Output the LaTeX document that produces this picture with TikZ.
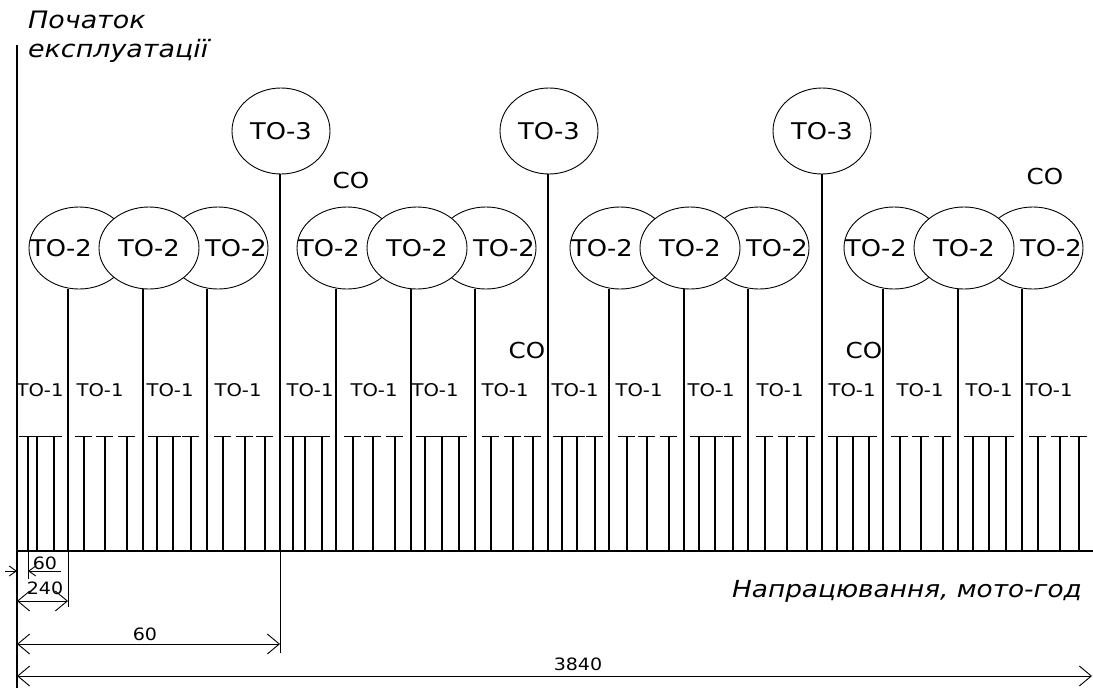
\documentclass[tikz,border=0pt]{standalone}
\usepackage{fontspec}
\setmainfont{DejaVu Sans}[FakeStretch=1.12]
\usetikzlibrary{shapes.geometric,arrows.meta}
\begin{document}
\begin{tikzpicture}[x=1pt,y=-1pt,
  ln/.style={line width=1.3pt},
  tk/.style={line width=1.2pt},
  capln/.style={line width=0.9pt},
  dimln/.style={line width=0.9pt},
  bigtip/.style={dimln,{Straight Barb[length=12pt,width=20pt]}-{Straight Barb[length=12pt,width=20pt]}},
  smalltip/.style={dimln,-{Straight Barb[length=7pt,width=10pt]}},
  eltwo/.style={ellipse,draw,fill=white,line width=0.9pt,minimum width=100pt,minimum height=82pt,inner sep=0pt},
  elthree/.style={ellipse,draw,fill=white,line width=0.9pt,minimum width=98pt,minimum height=86pt,inner sep=0pt,font=\fontsize{23}{23}\selectfont},
  twolab/.style={inner sep=0pt,font=\fontsize{23}{23}\selectfont},
  onelab/.style={inner sep=0pt,font=\fontsize{17.5}{17.5}\selectfont},
  colab/.style={inner sep=0pt,font=\fontsize{22}{22}\selectfont},
  dimlab/.style={inner sep=0pt,anchor=base,font=\fontsize{17}{17}\selectfont},
  ital/.style={inner sep=0pt,font=\itshape\fontsize{24}{24}\selectfont},
]
\useasboundingbox (0,0) rectangle (1093,688);

% axes
\coordinate (axtop) at (17,45);
\coordinate (axbot) at (17,688);
\coordinate (o) at (17,551);
\coordinate (bend) at (1093,551);
\draw[ln] (axtop) -- (axbot);
\draw[ln] (o) -- (bend);

% small ticks (TO-1)
\foreach \x [count=\i] in {28,37,54, 84,105,127, 157,173,191, 223,245,265,
  293,305,322, 353,373,395, 425,442,459, 491,513,533,
  562,577,595, 627,647,669, 699,715,733, 765,787,807,
  837,853,869, 900,921,943, 973,989,1006, 1038,1060,1079}{
  \coordinate (k\i) at (\x,551);
  \draw[tk] (k\i) -- ++(0,-115);
  \draw[capln] (k\i) ++(-9,-115) -- ++(17,0);
}
\draw[dimln] (k1) -- ++(0,28);

% TO-2 line bases
\foreach \x/\n in {68/a1,143/a2,207/a3, 336/b1,411/b2,475/b3,
  609/c1,684/c2,748/c3, 883/d1,958/d2,1022/d3}{
  \coordinate (p\n) at (\x,551);
}
% TO-3 line bases
\coordinate (q1) at (280,551);
\coordinate (q2) at (548,551);
\coordinate (q3) at (822,551);

% TO-3 ellipses
\node[elthree] (t1) at (281,131) {ТО-3};
\node[elthree] (t2) at (549,131) {ТО-3};
\node[elthree] (t3) at (822,131) {ТО-3};
\draw[tk] (q1 |- t1.south) -- (q1);
\draw[tk] (q2 |- t2.south) -- (q2);
\draw[tk] (q3 |- t3.south) -- (q3);

% TO-2 groups
\foreach \g/\cx in {a/79, b/347, c/620, d/894}{
  \node[eltwo] (e\g1) at (\cx,248) {};
  \node[eltwo] (e\g3) at (\cx+139,248) {};
  \node[eltwo] (e\g2) at (\cx+70,248) {};
  \node[twolab] (l\g1) at (\cx-18,248) {ТО-2};
  \node[twolab] (l\g2) at (\cx+70,248) {ТО-2};
  \node[twolab] (l\g3) at (\cx+157,248) {ТО-2};
  \draw[tk] (p\g1 |- e\g1.south) -- (p\g1);
  \draw[tk] (p\g2 |- e\g2.south) -- (p\g2);
  \draw[tk] (p\g3 |- e\g3.south) -- (p\g3);
}

% TO-1 labels
\foreach \x [count=\i] in {40,100,170,238, 310,374,435,505, 575,639,711,780, 852,920,989,1049}{
  \node[onelab] (m\i) at (\x,390) {ТО-1};
}

% CO labels
\node[colab] (co1) at (351,180) {СО};
\node[colab] (co2) at (527,350) {СО};
\node[colab] (co3) at (864,350) {СО};
\node[colab] (co4) at (1045,176) {СО};

% titles
\node[ital,anchor=base west] (start1) at (28,28) {Початок};
\node[ital,anchor=base west] (start2) at (28,57) {експлуатації};
\node[inner sep=0pt,anchor=base east,font=\itshape\fontsize{23.5}{23.5}\selectfont] (xlab) at (1082,597) {Напрацювання, мото-год};

% extension lines
\coordinate (x68) at (68,607);
\coordinate (x280) at (280,653);
\draw[dimln] (pa1) -- (x68);
\draw[dimln] (q1) -- (x280);

% dimensions
\coordinate (s0) at (5,571);
\coordinate (s1) at (17,571);
\coordinate (s2) at (28,571);
\coordinate (s3) at (61,571);
\draw[smalltip] (s0) -- (s1);
\draw[smalltip] (s3) -- (s2);
\node[dimlab] (d60a) at (45,569) {60};

\coordinate (u0) at (17,601);
\coordinate (u1) at (68,601);
\draw[bigtip] (u0) -- (u1);
\node[dimlab] (d240) at (45,594) {240};

\coordinate (v0) at (17,644);
\coordinate (v1) at (280,644);
\draw[bigtip] (v0) -- (v1);
\node[dimlab] (d60b) at (145,640) {60};

\coordinate (w0) at (17,676);
\coordinate (w1) at (1092,676);
\draw[bigtip] (w0) -- (w1);
\node[dimlab] (d3840) at (578,670) {3840};
\end{tikzpicture}
\end{document}
